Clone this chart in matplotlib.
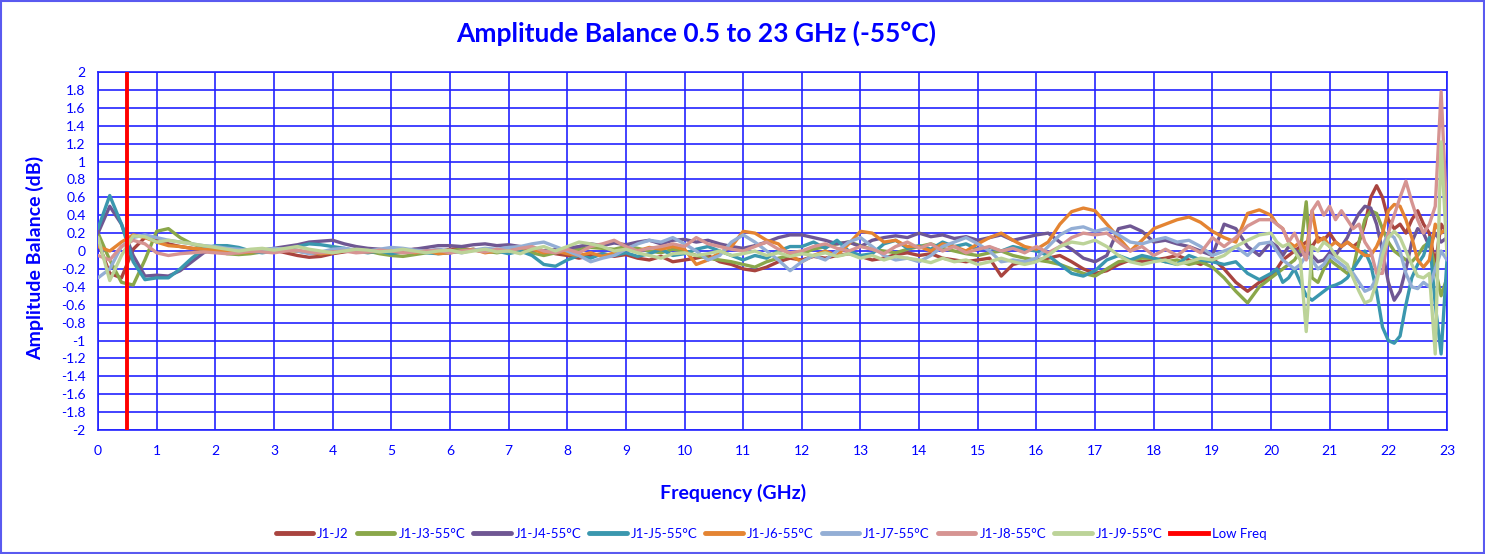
import numpy as np
import matplotlib
matplotlib.use("Agg")
import matplotlib.pyplot as plt
from matplotlib.patches import Rectangle

# Frequency sample points (GHz): 0.2 GHz step to 19.8, then 0.1 GHz step to 23.0
freq_main = np.round(np.arange(0.0, 19.85, 0.2), 1)
freq_tail = np.round(np.arange(20.0, 23.05, 0.1), 1)
freq = np.concatenate([freq_main, freq_tail])

j1_j2 = [
    0.10, -0.25, -0.30, 0.02, 0.15, 0.12, 0.08, 0.05, 0.03, 0.01,
    -0.01, -0.02, -0.03, -0.02, 0.00, 0.01, -0.02, -0.05, -0.07, -0.06,
    -0.03, -0.01, 0.01, 0.00, -0.02, -0.03, 0.00, 0.02, 0.01, -0.01,
    0.02, 0.03, 0.01, 0.00, -0.01, 0.02, 0.04, 0.03, 0.00, -0.03,
    -0.05, -0.08, -0.05, -0.03, -0.06, -0.04, -0.08, -0.10, -0.06, -0.12,
    -0.10, -0.08, -0.05, -0.12, -0.15, -0.20, -0.22, -0.18, -0.12, -0.08,
    -0.10, -0.06, -0.08, -0.05, -0.03, -0.06, -0.10, -0.08, -0.04, -0.02,
    -0.05, -0.03, -0.08, -0.10, -0.12, -0.10, -0.08, -0.28, -0.15, -0.12,
    -0.10, -0.08, -0.05, -0.12, -0.20, -0.25, -0.22, -0.15, -0.10, -0.12,
    -0.10, -0.08, -0.05, -0.10, -0.15, -0.08, -0.20, -0.35, -0.45, -0.35,
    -0.28, -0.20, -0.10, -0.05, 0.00, 0.05, 0.10, 0.05, 0.15, 0.12,
    0.20, 0.10, 0.05, 0.10, 0.05, 0.10, 0.30, 0.60, 0.73, 0.60,
    0.35, 0.25, 0.30, 0.20, 0.35, 0.45, 0.30, 0.20, -0.15, 0.30, 0.20,
]
j1_j3 = [
    0.20, -0.10, -0.35, -0.38, -0.10, 0.22, 0.25, 0.15, 0.08, 0.04,
    0.00, -0.03, -0.04, -0.03, -0.01, 0.00, 0.01, 0.00, -0.02, -0.03,
    -0.01, 0.00, 0.01, 0.00, -0.03, -0.05, -0.06, -0.04, -0.02, -0.01,
    0.00, 0.02, 0.01, 0.00, -0.02, 0.00, 0.01, -0.02, -0.05, -0.02,
    0.00, 0.02, 0.04, 0.03, 0.02, 0.05, 0.03, 0.00, -0.02, 0.02,
    0.00, -0.05, -0.08, -0.10, -0.12, -0.15, -0.18, -0.12, -0.08, -0.05,
    -0.03, 0.02, 0.05, 0.08, 0.10, 0.06, 0.02, 0.00, -0.02, 0.02,
    0.05, 0.08, 0.03, 0.00, -0.03, -0.05, -0.02, 0.00, -0.05, -0.08,
    -0.10, -0.12, -0.15, -0.20, -0.25, -0.28, -0.20, -0.12, -0.10, -0.08,
    -0.08, -0.12, -0.10, -0.15, -0.12, -0.18, -0.30, -0.45, -0.58, -0.40,
    -0.30, -0.25, -0.20, -0.15, -0.10, 0.00, 0.55, -0.30, -0.35, -0.20,
    -0.10, -0.15, -0.20, -0.25, -0.20, 0.10, 0.35, 0.45, 0.42, 0.25,
    0.10, 0.00, -0.05, -0.10, -0.12, -0.05, 0.05, 0.10, -0.20, -0.50, -0.30,
]
j1_j4 = [
    0.20, 0.50, 0.30, -0.05, -0.28, -0.27, -0.28, -0.22, -0.12, -0.02,
    0.03, 0.04, 0.02, 0.00, 0.01, 0.03, 0.05, 0.07, 0.10, 0.11,
    0.12, 0.08, 0.05, 0.03, 0.02, 0.00, 0.01, 0.02, 0.04, 0.06,
    0.06, 0.05, 0.07, 0.08, 0.06, 0.07, 0.05, 0.02, 0.00, 0.02,
    0.03, 0.05, 0.08, 0.06, 0.09, 0.07, 0.10, 0.12, 0.08, 0.12,
    0.13, 0.10, 0.12, 0.08, 0.05, 0.03, 0.06, 0.10, 0.15, 0.18,
    0.18, 0.15, 0.12, 0.08, 0.10, 0.05, 0.12, 0.15, 0.17, 0.15,
    0.20, 0.16, 0.18, 0.14, 0.16, 0.12, 0.15, 0.18, 0.12, 0.15,
    0.18, 0.20, 0.10, 0.02, -0.08, -0.12, -0.05, 0.25, 0.28, 0.22,
    0.10, 0.12, 0.08, 0.05, 0.00, -0.05, 0.30, 0.25, 0.05, -0.05,
    0.10, 0.05, -0.05, 0.05, 0.02, -0.05, 0.00, -0.05, -0.12, -0.10,
    -0.02, -0.05, 0.05, 0.15, 0.30, 0.42, 0.50, 0.48, 0.30, 0.00,
    -0.35, -0.55, -0.45, -0.20, 0.10, 0.25, 0.20, 0.05, 0.20, 0.10, 0.15,
]
j1_j5 = [
    0.25, 0.62, 0.30, -0.12, -0.32, -0.30, -0.30, -0.20, -0.08, 0.02,
    0.06, 0.06, 0.04, 0.00, -0.02, 0.00, 0.02, 0.05, 0.08, 0.07,
    0.05, 0.03, 0.00, -0.02, 0.00, -0.03, -0.01, 0.00, -0.02, -0.03,
    -0.02, 0.00, 0.02, -0.01, 0.00, -0.03, 0.00, -0.05, -0.15, -0.17,
    -0.10, -0.05, -0.08, -0.03, -0.05, -0.02, -0.06, -0.03, 0.02, -0.05,
    -0.03, 0.02, 0.05, 0.00, -0.05, -0.10, -0.05, -0.08, 0.00, 0.05,
    0.05, 0.10, 0.03, 0.12, 0.00, -0.05, -0.03, 0.08, 0.12, 0.03,
    0.06, 0.02, 0.10, 0.05, 0.08, 0.02, 0.04, 0.00, 0.05, 0.02,
    0.00, -0.05, -0.15, -0.25, -0.28, -0.22, -0.10, -0.05, -0.10, -0.05,
    -0.08, -0.12, -0.15, -0.05, -0.10, -0.12, -0.15, -0.12, -0.25, -0.32,
    -0.25, -0.20, -0.35, -0.30, -0.20, -0.35, -0.50, -0.55, -0.50, -0.45,
    -0.40, -0.38, -0.35, -0.30, -0.20, -0.10, 0.00, -0.15, -0.45, -0.85,
    -1.00, -1.03, -0.95, -0.60, -0.30, -0.15, -0.05, 0.15, -0.60, -1.15, -0.10,
]
j1_j6 = [
    0.05, 0.00, 0.10, 0.18, 0.15, 0.10, 0.06, 0.05, 0.03, 0.02,
    0.01, 0.00, -0.02, -0.01, 0.00, 0.02, 0.01, 0.00, -0.02, -0.03,
    -0.02, 0.00, 0.01, -0.01, 0.00, 0.02, 0.01, -0.02, 0.00, -0.03,
    -0.02, 0.00, 0.02, -0.02, 0.00, 0.03, 0.05, 0.02, -0.02, 0.00,
    -0.03, -0.05, -0.02, -0.06, -0.02, 0.02, 0.00, 0.04, 0.02, 0.05,
    0.02, -0.15, -0.10, -0.02, 0.05, 0.22, 0.20, 0.12, 0.08, -0.05,
    -0.12, -0.05, 0.00, -0.05, 0.08, 0.22, 0.20, 0.10, 0.12, 0.05,
    0.05, 0.00, 0.08, 0.05, 0.00, 0.08, 0.15, 0.20, 0.12, 0.05,
    0.02, 0.10, 0.30, 0.44, 0.48, 0.45, 0.30, 0.15, 0.00, 0.12,
    0.25, 0.30, 0.35, 0.38, 0.32, 0.22, 0.15, 0.10, 0.42, 0.46,
    0.40, 0.30, 0.25, 0.10, 0.05, 0.10, 0.00, 0.45, 0.10, 0.15,
    0.05, 0.10, 0.05, 0.10, 0.05, 0.00, -0.05, -0.05, 0.05, 0.20,
    0.45, 0.52, 0.50, 0.35, 0.15, -0.10, -0.18, -0.10, 0.30, 0.20, 0.25,
]
j1_j7 = [
    -0.30, -0.20, 0.05, 0.15, 0.18, 0.15, 0.12, 0.10, 0.08, 0.06,
    0.05, 0.03, 0.02, 0.00, 0.01, 0.03, 0.02, 0.00, -0.03, -0.01,
    0.02, 0.03, 0.01, 0.00, 0.02, 0.04, 0.03, 0.01, 0.00, 0.02,
    0.00, -0.02, 0.01, 0.03, 0.02, 0.04, 0.05, 0.08, 0.10, 0.05,
    0.00, -0.05, -0.12, -0.08, -0.05, 0.02, 0.08, 0.12, 0.10, 0.15,
    0.08, 0.00, -0.10, -0.05, 0.10, 0.18, 0.10, 0.00, -0.10, -0.22,
    -0.12, -0.05, -0.10, 0.00, 0.10, 0.15, 0.05, -0.05, -0.10, -0.08,
    -0.12, -0.05, 0.05, 0.10, 0.15, 0.08, 0.00, -0.12, -0.10, -0.12,
    -0.08, 0.05, 0.18, 0.25, 0.27, 0.22, 0.25, 0.18, 0.10, 0.08,
    0.12, 0.15, 0.10, 0.12, 0.05, -0.05, 0.00, 0.05, -0.05, 0.08,
    0.10, 0.00, -0.10, -0.15, -0.20, -0.15, -0.05, -0.10, -0.20, -0.15,
    -0.05, -0.10, -0.15, -0.20, -0.25, -0.35, -0.45, -0.42, -0.30, 0.05,
    0.20, 0.15, 0.00, -0.25, -0.40, -0.42, -0.35, -0.40, -0.20, 0.00, -0.10,
]
j1_j8 = [
    -0.05, -0.10, 0.05, 0.12, 0.08, -0.02, -0.05, -0.03, -0.02, -0.01,
    -0.02, -0.03, -0.02, 0.00, -0.01, -0.02, 0.00, 0.01, -0.01, -0.02,
    -0.01, 0.00, -0.02, -0.01, 0.01, 0.00, -0.02, -0.01, 0.00, 0.01,
    -0.02, 0.00, 0.01, -0.01, 0.02, 0.00, 0.03, 0.05, 0.00, -0.02,
    0.02, -0.02, 0.05, 0.08, 0.12, 0.05, 0.00, 0.03, 0.05, 0.08,
    0.05, 0.15, 0.08, 0.05, 0.02, 0.00, 0.05, 0.10, 0.02, -0.02,
    0.00, 0.05, 0.08, 0.03, 0.00, 0.05, 0.02, -0.03, 0.05, 0.10,
    0.03, 0.08, 0.00, 0.05, -0.02, 0.02, 0.05, 0.00, 0.03, -0.02,
    0.05, -0.02, 0.05, 0.15, 0.20, 0.18, 0.20, 0.10, 0.00, 0.05,
    -0.05, 0.02, -0.05, 0.05, -0.02, 0.15, 0.05, 0.15, 0.28, 0.35,
    0.35, 0.30, 0.25, 0.10, 0.20, 0.05, -0.10, 0.45, 0.55, 0.40,
    0.50, 0.35, 0.45, 0.35, 0.25, 0.30, 0.10, 0.00, -0.25, -0.25,
    0.20, 0.40, 0.60, 0.78, 0.55, 0.35, 0.20, 0.30, 0.50, 1.78, 0.35,
]
j1_j9 = [
    0.15, -0.33, -0.05, 0.17, 0.16, 0.10, 0.12, 0.10, 0.08, 0.06,
    0.04, 0.02, 0.00, 0.02, 0.03, 0.01, 0.03, 0.05, 0.02, 0.00,
    -0.02, 0.00, 0.02, 0.01, -0.01, 0.00, 0.02, 0.00, -0.02, 0.00,
    0.01, -0.02, 0.00, 0.02, -0.01, 0.00, -0.03, 0.02, 0.05, 0.00,
    0.05, 0.10, 0.08, 0.05, 0.00, 0.02, -0.02, -0.05, -0.08, -0.03,
    -0.02, -0.05, -0.03, 0.00, -0.05, -0.03, 0.00, -0.05, -0.02, -0.06,
    -0.03, -0.05, -0.02, -0.06, -0.03, -0.08, -0.05, -0.10, -0.06, -0.08,
    -0.10, -0.13, -0.08, -0.12, -0.10, -0.15, -0.12, -0.08, -0.12, -0.15,
    -0.12, -0.05, 0.05, 0.10, 0.08, 0.12, 0.05, -0.05, -0.12, -0.15,
    -0.12, -0.10, -0.15, -0.12, -0.08, -0.10, -0.05, 0.05, 0.12, 0.18,
    0.20, 0.10, 0.05, 0.08, 0.00, -0.10, -0.90, 0.05, 0.00, 0.10,
    0.05, -0.05, -0.10, -0.15, -0.30, -0.45, -0.58, -0.55, -0.35, -0.05,
    0.15, 0.22, 0.15, 0.00, -0.15, -0.28, -0.30, -0.25, -1.15, 1.22, -0.05,
]

series_names = ["J1-J2", "J1-J3-55°C", "J1-J4-55°C", "J1-J5-55°C",
                "J1-J6-55°C", "J1-J7-55°C", "J1-J8-55°C", "J1-J9-55°C"]
series_values = [j1_j2, j1_j3, j1_j4, j1_j5, j1_j6, j1_j7, j1_j8, j1_j9]
series_colors = ["#A9443F", "#8AA74A", "#6F5793", "#3A97AE",
                 "#E48432", "#93AED5", "#D69492", "#BCD398"]

low_freq_x = [0.5, 0.5]
low_freq_y = [-2, 2]

x_ticks = list(range(0, 24))
y_ticks = [round(-2 + 0.2 * i, 1) for i in range(21)]

for v in series_values:
    assert len(v) == len(freq), (len(v), len(freq))

BLUE = "#0000FF"
plt.rcParams['font.family'] = ['Lato', 'DejaVu Sans']

fig = plt.figure(figsize=(14.85, 5.54), dpi=100)
ax = fig.add_axes([0.066, 0.2238, 0.9084, 0.6462])

for name, vals, col in zip(series_names, series_values, series_colors):
    ax.plot(freq, vals, color=col, lw=2.4, label=name,
            solid_joinstyle='round', solid_capstyle='round', zorder=3)
ax.plot(low_freq_x, low_freq_y, color="#FF0000", lw=2.8, label="Low Freq", zorder=4)

ax.set_xlim(0, 23)
ax.set_ylim(-2, 2)
ax.set_xticks(x_ticks)
ax.set_yticks(y_ticks)
ax.set_yticklabels([("%g" % t) for t in y_ticks])
ax.grid(True, color="#2222FF", lw=1.2, zorder=1)
ax.tick_params(axis='both', colors=BLUE, labelsize=10, length=0)
ax.tick_params(axis='x', pad=11)
ax.tick_params(axis='y', pad=9)
for sp in ax.spines.values():
    sp.set_color("#2222FF")
    sp.set_linewidth(1.2)

fig.text(733 / 1485, 1 - 493 / 554, "Frequency (GHz)", color=BLUE, fontsize=14,
         fontweight='bold', ha='center', va='center')
fig.text(35 / 1485, 1 - 258 / 554, "Amplitude Balance (dB)", color=BLUE, fontsize=14,
         fontweight='bold', ha='center', va='center', rotation=90)
fig.text(696 / 1485, 1 - 33 / 554, "Amplitude Balance 0.5 to 23 GHz (-55°C)", color=BLUE,
         fontsize=19, fontweight='bold', ha='center', va='center')

leg = fig.legend(loc='center', bbox_to_anchor=(771 / 1485, 1 - 534 / 554), ncol=9,
                 frameon=False, fontsize=9.5, handlelength=2.85, columnspacing=0.6,
                 handletextpad=0.3)
for t in leg.get_texts():
    t.set_color(BLUE)
for h in leg.get_lines():
    h.set_linewidth(3.5)

fig.patches.append(Rectangle((0.001, 0.001), 0.998, 0.997, transform=fig.transFigure,
                             fill=False, edgecolor="#5A5AF0", lw=1.5))

fig.savefig("out.png", dpi=100)
